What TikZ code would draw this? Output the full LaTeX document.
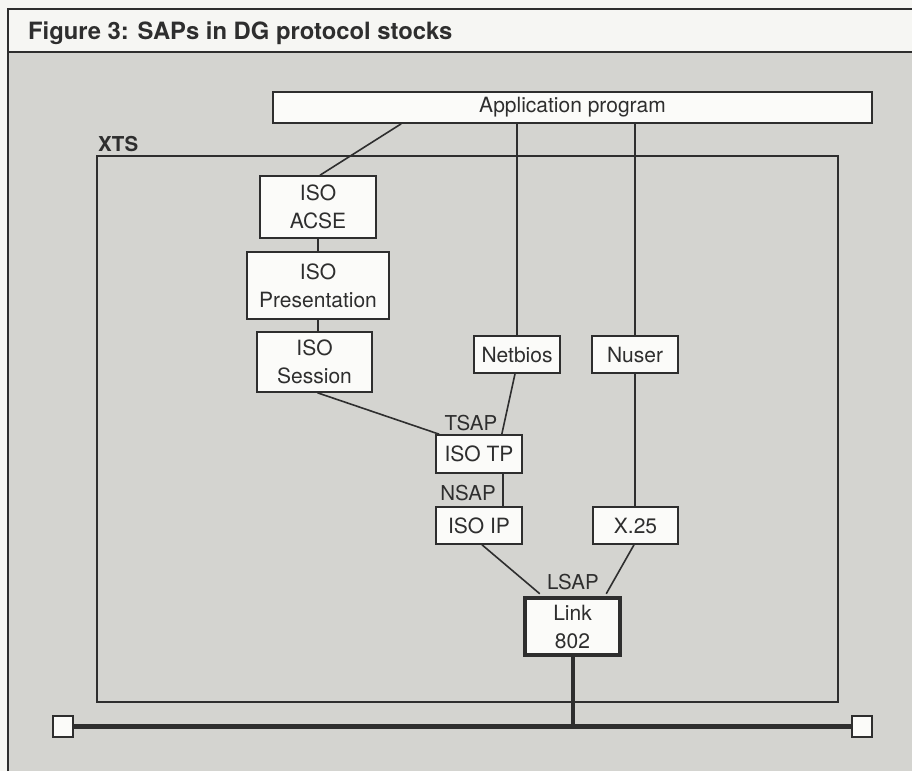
\documentclass[tikz,border=0pt]{standalone}
\usepackage{fontspec}
\setmainfont{TeX Gyre Heros}
\usetikzlibrary{calc}
\definecolor{ink}{HTML}{2E2E2E}
\definecolor{bg}{HTML}{D4D4D0}
\definecolor{paper}{HTML}{F6F6F3}
\definecolor{boxfill}{HTML}{FBFBF9}
\begin{document}
\begin{tikzpicture}[x=1pt,y=-1pt,
  box/.style={draw=ink, fill=boxfill, line width=1.6pt, inner sep=0pt, align=center,
    text=ink, font=\fontsize{21}{28}\selectfont},
  conn/.style={draw=ink, line width=1.6pt},
  sap/.style={font=\fontsize{20.5}{24}\selectfont, text=ink, inner sep=0pt},
  term/.style={draw=ink, fill=boxfill, line width=2pt, minimum width=20pt, minimum height=21pt, inner sep=0pt}]
\useasboundingbox (0,0) rectangle (912,771);
% background
\fill[paper] (0,0) rectangle (912,771);
\fill[bg] (8,52) rectangle (912,771);
\draw[ink, line width=2pt] (8,771) -- (8,9) -- (912,9);
\draw[ink, line width=2pt] (8,52) -- (912,52);
\node[anchor=base west, inner sep=0pt, text=ink, font=\bfseries\fontsize{23.8}{28}\selectfont] (title) at (28,39) {Figure 3: SAPs in DG protocol stocks};
% XTS frame
\draw[ink, line width=1.5pt] (97,156) rectangle (838,702);
\node[anchor=base west, inner sep=0pt, text=ink, font=\bfseries\fontsize{20.5}{24}\selectfont] (xts) at (98,151) {XTS};
% nodes
\node[box, minimum width=599pt, minimum height=31pt] (app) at (572.5,107.5) {Application program};
\node[box, minimum width=116pt, minimum height=62pt] (acse) at (318,207) {ISO\\ACSE};
\node[box, minimum width=142pt, minimum height=67pt] (pres) at (318,285.5) {ISO\\Presentation};
\node[box, minimum width=115pt, minimum height=60pt] (sess) at (314.5,362) {ISO\\Session};
\node[box, minimum width=86pt, minimum height=37pt] (netbios) at (517,354.5) {Netbios};
\node[box, minimum width=86pt, minimum height=37pt] (nuser) at (635,354.5) {Nuser};
\node[box, minimum width=86pt, minimum height=38pt] (tp) at (479,454) {ISO TP};
\node[box, minimum width=86pt, minimum height=37pt] (ip) at (479,525.5) {ISO IP};
\node[box, minimum width=85pt, minimum height=37pt] (x25) at (635.5,525.5) {X.25};
\node[box, line width=4.5pt, minimum width=95pt, minimum height=57pt] (link) at (572.5,626.5) {Link\\802};
% SAP labels
\node[sap] (tsap) at (471,423) {TSAP};
\node[sap] (nsap) at (468,493) {NSAP};
\node[sap] (lsap) at (573,582) {LSAP};
% bus terminals
\node[term] (lterm) at (63,726.5) {};
\node[term] (rterm) at (862,726.5) {};
\coordinate (tap) at (link.south |- lterm.east);
% connectors
\draw[conn] ($(app.south west)+(129,0)$) -- ($(acse.north)+(2,0)$);
\draw[conn] (app.south -| netbios.north) -- (netbios.north);
\draw[conn] (app.south -| nuser.north) -- (nuser.north);
\draw[conn] (acse.south) -- (acse.south |- pres.north);
\draw[conn] (pres.south -| acse.south) -- (acse.south |- sess.north);
\draw[conn] ($(sess.south)+(3,0)$) -- ($(tp.north west)+(4,0)$);
\draw[conn] ($(netbios.south)+(-2,0)$) -- ($(tp.north east)+(-21,0)$);
\draw[conn] ($(tp.south)+(24,0)$) -- ($(ip.north)+(24,0)$);
\draw[conn] (nuser.south) -- (nuser.south |- x25.north);
\draw[conn] ($(ip.south)+(3,0)$) -- ($(link.north west)+(17,-2)$);
\draw[conn] ($(x25.south)+(-1.5,0)$) -- ($(link.north east)+(-16,-2)$);
\draw[ink, line width=4pt] (link.south) -- (tap);
\draw[ink, line width=5pt] (lterm.east) -- (rterm.west);
\end{tikzpicture}
\end{document}
